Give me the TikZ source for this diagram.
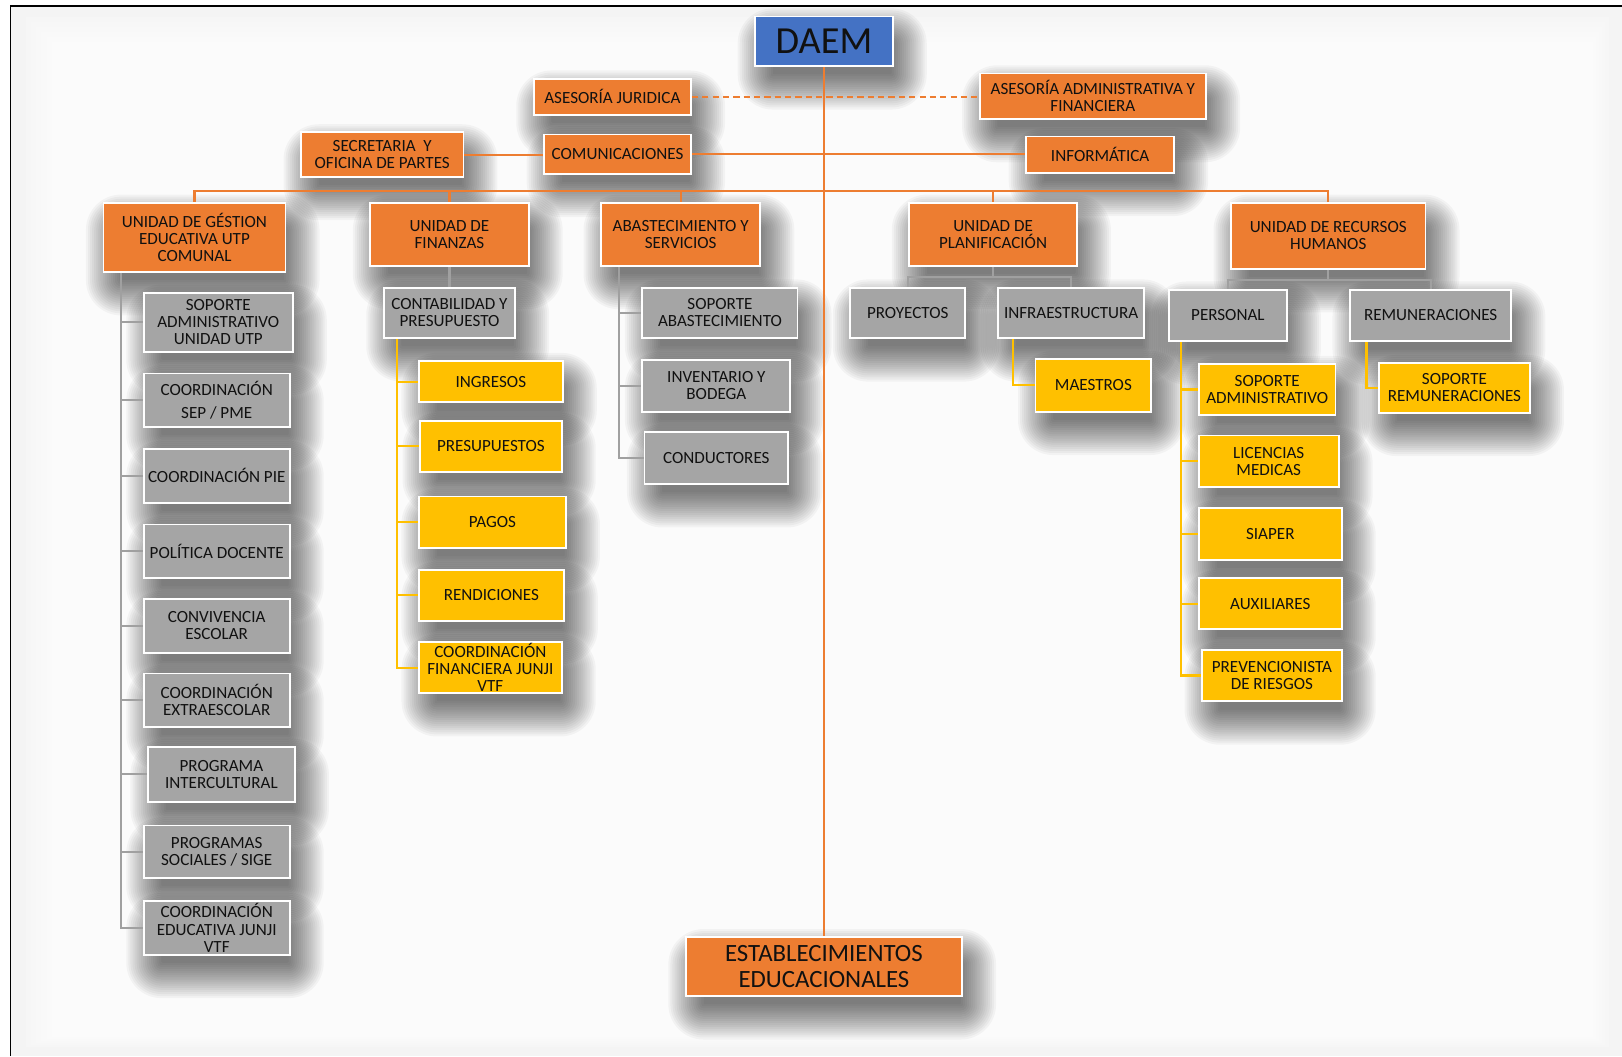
\documentclass[tikz,border=0pt]{standalone}
\usepackage{fontspec}
\setmainfont{Carlito}
\pgfdeclarelayer{bg}
\pgfsetlayers{bg,main}
\definecolor{org}{HTML}{ED7D31}
\definecolor{blu}{HTML}{4472C4}
\definecolor{gry}{HTML}{A5A5A5}
\definecolor{ylw}{HTML}{FFC000}
\definecolor{glc}{HTML}{A0A0A0}
\definecolor{txt}{HTML}{111111}
\tikzset{
 bxs/.style={draw=white, line width=1.8pt, inner sep=1pt, align=center, text=txt, font=\fontsize{16.5}{16.5}\selectfont},
 obox/.style={bxs, fill=org},
 gbox/.style={bxs, fill=gry},
 ybox/.style={bxs, fill=ylw},
 bbox/.style={bxs, fill=blu, font=\fontsize{37}{37}\selectfont},
 lbox/.style={bxs, fill=org, font=\fontsize{24}{25}\selectfont},
 oline/.style={draw=org, line width=2pt},
 gln/.style={draw=glc, line width=2pt},
 yln/.style={draw=ylw, line width=2pt},
}
\newcommand\bx[7]{\node[#6, minimum width={(#4)-(#2)}, minimum height={(#5)-(#3)}] (#1) at ({((#2)+(#4))/2},{((#3)+(#5))/2}) {#7};}
\begin{document}
\begin{tikzpicture}[x=1pt,y=-1pt]
\useasboundingbox (0,0) rectangle (1568,1021);
% boxes
\bx{daem}{730}{16}{863}{64}{bbox}{DAEM}
\bx{aj}{516}{76}{668}{111}{obox}{ASESORÍA JURIDICA}
\bx{aaf}{947}{71}{1166}{115}{obox}{ASESORÍA ADMINISTRATIVA Y\\FINANCIERA}
\bx{sec}{291}{128}{448}{171}{obox}{SECRETARIA\ \ Y\\OFICINA DE PARTES}
\bx{com}{526}{130}{668}{168}{obox}{COMUNICACIONES}
\bx{inf}{992}{132}{1135}{167}{obox}{INFORMÁTICA}
\bx{utp}{100}{196}{276}{263}{obox}{UNIDAD DE GÉSTION\\EDUCATIVA UTP\\COMUNAL}
\bx{fin}{358}{196}{511}{257}{obox}{UNIDAD DE\\FINANZAS}
\bx{abs}{581}{196}{735}{257}{obox}{ABASTECIMIENTO Y\\SERVICIOS}
\bx{pla}{879}{196}{1041}{257}{obox}{UNIDAD DE\\PLANIFICACIÓN}
\bx{rrhh}{1190}{196}{1378}{260}{obox}{UNIDAD DE RECURSOS\\HUMANOS}
\bx{u1}{139}{283}{283}{340}{gbox}{SOPORTE\\ADMINISTRATIVO\\UNIDAD UTP}
\bx{u2}{139}{361}{280}{413}{gbox}{COORDINACIÓN\\[5pt]SEP / PME}
\bx{u3}{139}{434}{280}{486}{gbox}{COORDINACIÓN PIE}
\bx{u4}{139}{507}{280}{559}{gbox}{POLÍTICA DOCENTE}
\bx{u5}{139}{579}{280}{631}{gbox}{CONVIVENCIA\\ESCOLAR}
\bx{u6}{139}{651}{280}{703}{gbox}{COORDINACIÓN\\EXTRAESCOLAR}
\bx{u7}{143}{722}{285}{775}{gbox}{PROGRAMA\\INTERCULTURAL}
\bx{u8}{139}{798}{280}{849}{gbox}{PROGRAMAS\\SOCIALES / SIGE}
\bx{u9}{139}{871}{280}{923}{gbox}{COORDINACIÓN\\EDUCATIVA JUNJI\\VTF}
\bx{cont}{371}{278}{498}{327}{gbox}{CONTABILIDAD Y\\PRESUPUESTO}
\bx{f1}{405}{349}{544}{389}{ybox}{INGRESOS}
\bx{f2}{406}{407}{543}{456}{ybox}{PRESUPUESTOS}
\bx{f3}{405}{480}{547}{530}{ybox}{PAGOS}
\bx{f4}{405}{551}{545}{600}{ybox}{RENDICIONES}
\bx{f5}{405}{621}{543}{670}{ybox}{COORDINACIÓN\\FINANCIERA JUNJI\\VTF}
\bx{a1}{621}{278}{771}{327}{gbox}{SOPORTE\\ABASTECIMIENTO}
\bx{a2}{621}{348}{764}{398}{gbox}{INVENTARIO Y\\BODEGA}
\bx{a3}{623}{418}{762}{468}{gbox}{CONDUCTORES}
\bx{proy}{822}{278}{933}{327}{gbox}{PROYECTOS}
\bx{infra}{965}{278}{1106}{327}{gbox}{INFRAESTRUCTURA}
\bx{mae}{1001}{347}{1113}{398}{ybox}{MAESTROS}
\bx{pers}{1130}{280}{1244}{330}{gbox}{PERSONAL}
\bx{rem}{1305}{280}{1461}{330}{gbox}{REMUNERACIONES}
\bx{p1}{1159}{352}{1291}{401}{ybox}{SOPORTE\\ADMINISTRATIVO}
\bx{p2}{1159}{421}{1294}{471}{ybox}{LICENCIAS\\MEDICAS}
\bx{p3}{1159}{491}{1297}{541}{ybox}{SIAPER}
\bx{p4}{1159}{559}{1297}{608}{ybox}{AUXILIARES}
\bx{p5}{1162}{628}{1297}{678}{ybox}{PREVENCIONISTA\\DE RIESGOS}
\bx{srem}{1333}{351}{1479}{399}{ybox}{SOPORTE\\REMUNERACIONES}
\bx{est}{663}{906}{930}{963}{lbox}{ESTABLECIMIENTOS\\EDUCACIONALES}
% background and shadows
\begin{pgfonlayer}{bg}
\fill[gray!9] (10,6) rectangle (1568,1021);
\foreach \i in {0,...,11} {\fill[white,opacity=0.22] ({25+5*\i},{16+5*\i}) rectangle ({1555-3*\i},{1012-2*\i});}
\foreach \n in {daem,aj,aaf,sec,com,inf,utp,fin,abs,pla,rrhh,u1,u2,u3,u4,u5,u6,u7,u8,u9,cont,f1,f2,f3,f4,f5,a1,a2,a3,proy,infra,mae,pers,rem,p1,p2,p3,p4,p5,srem,est} {
  \foreach \e in {-10,-8,...,24} {
    \pgfmathsetmacro\rr{max(1,\e+10)}
    \fill[black,opacity=0.034,rounded corners=\rr pt] ([shift={(8-\e,17+\e)}]\n.south west) rectangle ([shift={(8+\e,17-\e)}]\n.north east);
  }
}
\end{pgfonlayer}
\draw[black, line width=1.6pt] (10,1021) -- (10,6) -- (1568,6);
% coordinates
\coordinate (bus) at (796.5,185);
\coordinate (plbus) at (0,268);
\coordinate (rhbus) at (0,271);
\coordinate (utpx) at (117,0);
\coordinate (finx) at (384,0);
\coordinate (absx) at (598,0);
\coordinate (infx) at (979,0);
\coordinate (persx) at (1142,0);
\coordinate (remx) at (1321,0);
% orange connectors
\draw[oline] (daem.south) -- (est.north);
\draw[oline, dashed, dash pattern=on 6pt off 4pt] (aj.east) -- (aj.east -| aaf.west);
\draw[oline] (sec.east) -- (sec.east -| com.west);
\draw[oline] (com.east) -- (com.east -| inf.west);
\draw[oline] (utp.north) |- (bus) -| (rrhh.north);
\draw[oline] (fin.north) -- (fin.north |- bus);
\draw[oline] (abs.north) -- (abs.north |- bus);
\draw[oline] (pla.north) -- (pla.north |- bus);
% UTP column
\draw[gln] (utp.south -| utpx) |- (u9.west);
\foreach \n in {u1,u2,u3,u4,u5,u6,u7,u8} {\draw[gln] (utpx |- \n.west) -- (\n.west);}
% Finanzas
\draw[gln] (fin.south) -- (fin.south |- cont.north);
\draw[yln] (cont.south -| finx) |- (f5.west);
\foreach \n in {f1,f2,f3,f4} {\draw[yln] (finx |- \n.west) -- (\n.west);}
% Abastecimiento
\draw[gln] (abs.south -| absx) |- (a3.west);
\foreach \n in {a1,a2} {\draw[gln] (absx |- \n.west) -- (\n.west);}
% Planificacion
\draw[gln] (pla.south) -- (pla.south |- plbus);
\draw[gln] (proy.north) |- (infra.north |- plbus) -- (infra.north);
\draw[yln] (infra.south -| infx) |- (mae.west);
% RRHH
\draw[gln] (rrhh.south) -- (rrhh.south |- rhbus);
\draw[gln] (pers.north) |- (rem.north |- rhbus) -- (rem.north);
\draw[yln] (pers.south -| persx) |- (p5.west);
\foreach \n in {p1,p2,p3,p4} {\draw[yln] (persx |- \n.west) -- (\n.west);}
\draw[yln] (rem.south -| remx) |- (srem.west);
\end{tikzpicture}
\end{document}
